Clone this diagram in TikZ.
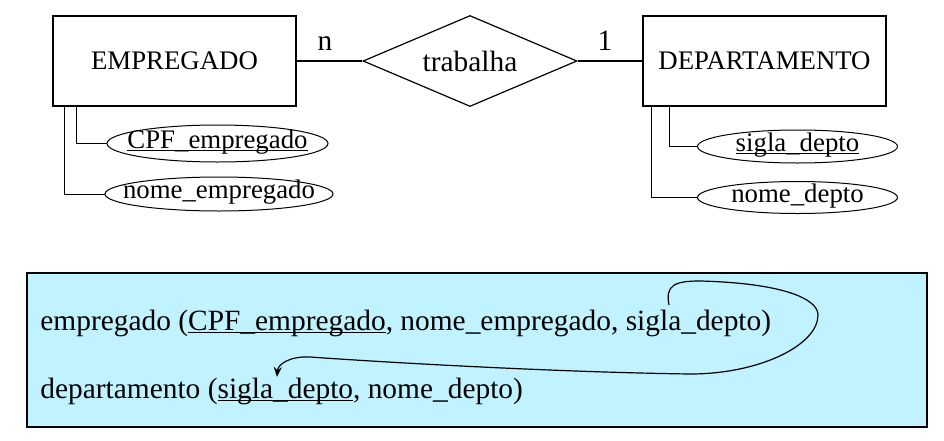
\documentclass[tikz,border=0pt]{standalone}
\usepackage{fontspec}
\setmainfont{Liberation Serif}
\usetikzlibrary{shapes.geometric,arrows.meta}

\definecolor{relfill}{RGB}{192,242,255}
\newcommand\pkey[1]{\underline{\smash{#1}}}
\newcommand\attrtext[1]{\makebox[0pt]{#1}}

\begin{document}
\begin{tikzpicture}[x=0.5pt, y=-0.5pt,
  font=\fontsize{13.4}{16}\selectfont,
  entity/.style={draw, line width=.6pt, minimum width=121.5pt, minimum height=45pt, inner sep=0pt},
  rel/.style={draw, diamond, line width=.6pt, aspect=2.35, minimum width=107pt, minimum height=45.5pt, inner sep=0pt, font=\fontsize{14.7}{17}\selectfont},
  attr/.style={draw, ellipse, line width=.5pt, inner sep=0pt, text height=5pt, text depth=.5pt},
  card/.style={anchor=base, font=\fontsize{14.7}{17}\selectfont, inner sep=0pt},
  link/.style={line width=1pt},
  attrlink/.style={line width=.5pt}]

\useasboundingbox (0,0) rectangle (944,440);

\node [entity] (emp) at (174.5,61) {EMPREGADO};
\node [rel] (trab) at (470,61) {trabalha};
\node [entity] (dep) at (764.5,61) {DEPARTAMENTO};

\draw [link] (emp) -- (trab) node [card, pos=.5, xshift=-2.25pt, yshift=5.5pt] {n};
\draw [link] (trab) -- (dep) node [card, pos=.5, xshift=-2.5pt, yshift=5.5pt] {1};

\node [attr, minimum width=110.5pt, minimum height=18.5pt] (cpf) at (217.5,143.5) {\attrtext{\pkey{CPF\_empregado}}};
\node [attr, minimum width=114pt, minimum height=17pt] (nomeemp) at (219,194) {\attrtext{nome\_empregado}};
\node [attr, minimum width=100pt, minimum height=16.5pt] (sigla) at (797.5,146.5) {\attrtext{\pkey{sigla\_depto}}};
\node [attr, minimum width=100pt, minimum height=16pt] (nomedep) at (797.5,197.5) {\attrtext{nome\_depto}};

\draw [attrlink] ([xshift=12pt]emp.south west) |- (cpf.west);
\draw [attrlink] ([xshift=6pt]emp.south west) |- (nomeemp.west);
\draw [attrlink] ([xshift=13.5pt]dep.south west) |- (sigla.west);
\draw [attrlink] ([xshift=4.5pt]dep.south west) |- (nomedep.west);

% relational schema
\filldraw [fill=relfill, line width=.6pt] (27,273) rectangle (927,427);

\node [anchor=base west, inner sep=0pt, font=\fontsize{14.7}{17}\selectfont] (tabemp) at (40,330) {empregado (\pkey{CPF\_empregado}, nome\_empregado, sigla\_depto)};
\node [anchor=base west, inner sep=0pt, font=\fontsize{14.7}{17}\selectfont] (tabdep) at (40,398) {departamento (\pkey{sigla\_depto}, nome\_depto)};

\coordinate (fkstart) at (669,305);
\coordinate (fkend) at (277,377);

\draw [line width=.6pt, -{Stealth[length=5pt,width=4pt]}] (fkstart)
  .. controls (665,285) and (675,281) .. (700,281)
  .. controls (780,283) and (818,298) .. (818,315)
  .. controls (818,345) and (760,374) .. (690,374)
  .. controls (550,372) and (380,362) .. (310,357)
  .. controls (290,356) and (278,364) .. (fkend);

\end{tikzpicture}
\end{document}
